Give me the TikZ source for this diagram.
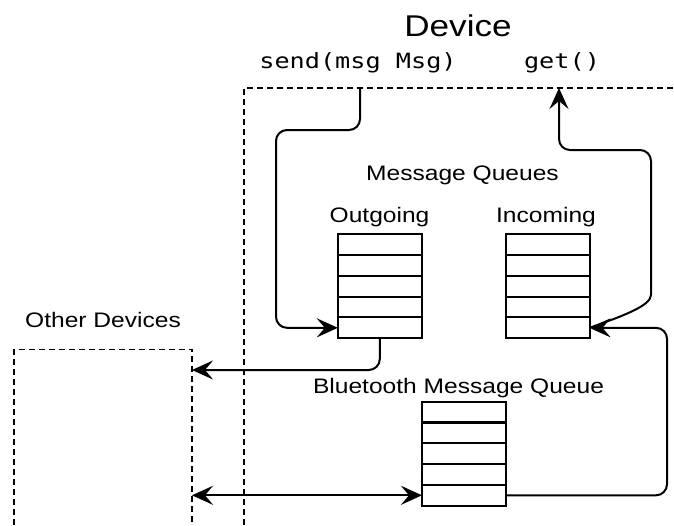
\documentclass[tikz,border=0pt]{standalone}
\usepackage{fontspec}
\setmainfont[FakeStretch=1.17]{Liberation Sans}
\newfontfamily\codefont[FakeStretch=1.2]{DejaVu Sans Mono}
\usetikzlibrary{arrows.meta}
\begin{document}
\begin{tikzpicture}[x=1pt,y=-1pt,
  row/.style={draw, line width=2pt, minimum width=84pt, minimum height=20.85pt, inner sep=0pt, outer sep=0pt},
  lbl/.style={anchor=base, inner sep=0pt, text=black, font=\fontsize{21}{25}\selectfont},
  code/.style={anchor=base, inner sep=0pt, font=\codefont\fontsize{21}{25}\selectfont},
  bound/.style={draw, dash pattern=on 6pt off 4pt, line width=1.9pt},
  conn/.style={line width=2pt, rounded corners=11pt},
  headend/.style={-{Stealth[length=21pt,width=19pt,inset=8pt]}},
  headboth/.style={{Stealth[length=21pt,width=19pt,inset=8pt]}-{Stealth[length=21pt,width=19pt,inset=8pt]}}
]
\useasboundingbox[fill=white] (0,0) rectangle (674,525);

% labels
\node[anchor=base, inner sep=0pt, font=\fontsize{30}{34}\selectfont] (title) at (458,36) {Device};
\node[code] (send) at (358,68) {send(msg Msg)};
\node[code] (get) at (562,68) {get()};
\node[lbl] (mq) at (462.5,180) {Message Queues};
\node[lbl] (outl) at (379.5,222) {Outgoing};
\node[lbl] (inl) at (546,222) {Incoming};
\node[lbl] (othl) at (103,327) {Other Devices};
\node[lbl] (btl) at (458.5,393) {Bluetooth Message Queue};

% boundaries
\draw[bound] (244,525) -- (244,88) -- (674,88);
\draw[bound] (14,525) -- (14,349.5) -- (192,349.5) -- (192,525);
\coordinate (othedge) at (192,349.5);
\coordinate (sendpt) at (360,88);
\coordinate (getpt) at (559,88);

% queues
\foreach \i in {1,...,5} {
  \node[row] (out\i) at (379.8, {234+20.85*(\i-0.5)}) {};
  \node[row] (in\i) at (547.5, {234+20.85*(\i-0.5)}) {};
  \node[row] (bt\i) at (464, {401.7+20.8*(\i-0.5)}) {};
}
\coordinate (othA) at (othedge |- 0,370);
\coordinate (othB) at (othedge |- bt5.west);

% connectors
\draw[conn,headend] (sendpt) |- (276,130) |- (out5.west);
\draw[conn,headend] (in5.east) .. controls (620,317) and (651,306) .. (651,284) -- (651,150) -- (559,150) -- (getpt);
\draw[conn,headend] (bt5.east) -| (667,400) |- (in5.east);
\draw[conn,headend] (out5.south) |- (othA);
\draw[line width=2pt, headboth] (othB) -- (bt5.west);
\end{tikzpicture}
\end{document}
